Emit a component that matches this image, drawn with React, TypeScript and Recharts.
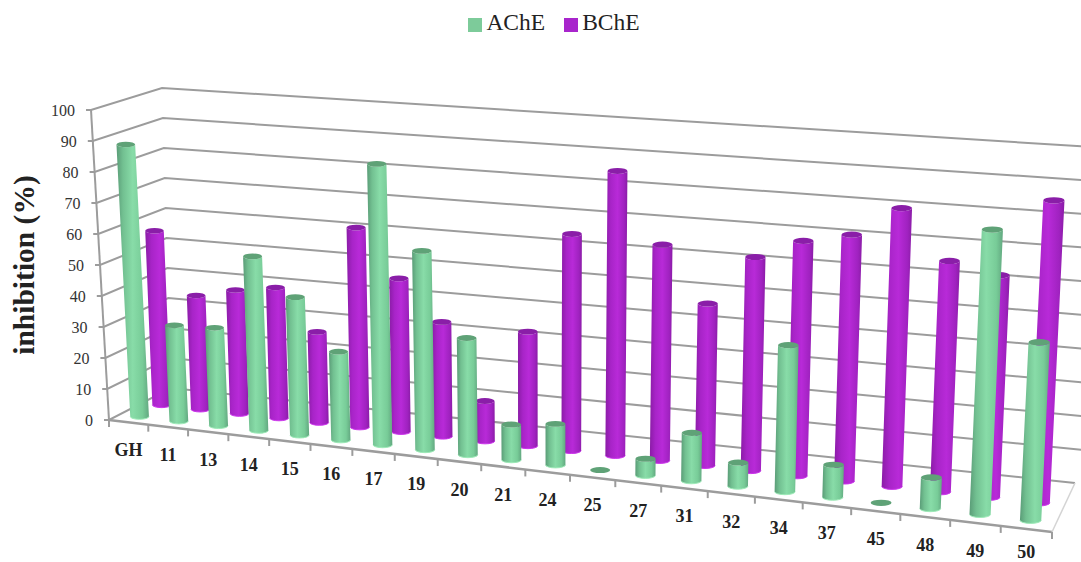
import React from "react";
import { BarChart, Bar, XAxis, YAxis, CartesianGrid, Legend, Label } from "recharts";

// Compounds along the floor of the 3D chart and their inhibition percentages.
const compounds = ["GH", "11", "13", "14", "15", "16", "17", "19", "20", "21", "24", "25", "27", "31", "32", "34", "37", "45", "48", "49", "50"];
const ache = [88, 30.8, 31.3, 55.3, 43.6, 27.7, 87.7, 61.7, 36, 10.8, 12.5, 0, 5, 14.3, 7, 43.2, 9.5, 0, 9, 81.8, 50.8];
const bche = [57, 37, 40, 42, 29, 63.5, 48.5, 36, 12.5, 35.5, 67, 87.5, 66, 49.2, 64.5, 70.5, 73.5, 82.5, 68, 65, 88];
const valueTicks = [0, 10, 20, 30, 40, 50, 60, 70, 80, 90, 100];

const rows = compounds.map((name, i) => ({ name, AChE: ache[i], BChE: bche[i] }));

const WIDTH = 1081;
const HEIGHT = 562;
const LEFT = 109;
const RIGHT = 1052;
const TOP = 110;
const BOTTOM = 420;
const PLOT_W = RIGHT - LEFT;
const PLOT_H = BOTTOM - TOP;
const BAND = PLOT_W / compounds.length;

const SERIF = "'Liberation Serif', serif";
const GRID = "#9c9c9c";

// Corners of the chart box as seen by the camera.
const box = {
  frontLeft: { low: [109, 420], high: [91, 110] },
  backLeft: { low: [171, 388], high: [162, 88] },
  backRight: { low: [1075, 483], high: [1092, 147] },
  frontRight: { low: [1052, 532], high: [1070, 177] },
};

const mix = (a: number, b: number, t: number) => a + (b - a) * t;

// Foreshortening along the floor: categories get wider toward the right.
const FORESHORTEN = 1.15;
const warp = (u: number) => u / (FORESHORTEN - (FORESHORTEN - 1) * u);

// Takes a point in the flat plot area plus a depth (0 front, 1 back) to the screen.
function project(px: number, py: number, depth: number) {
  const u = warp((px - LEFT) / PLOT_W);
  const v = (BOTTOM - py) / PLOT_H;
  const corner = (c: { low: number[]; high: number[] }, k: number) => mix(c.low[k], c.high[k], v);
  const at = (k: number) =>
    mix(
      mix(corner(box.frontLeft, k), corner(box.frontRight, k), u),
      mix(corner(box.backLeft, k), corner(box.backRight, k), u),
      depth
    );
  return { x: at(0), y: at(1) };
}

// Series share one band: each cylinder is centred on the band and pushed back by its depth.
function Cylinder(props: any) {
  const { y, width, height, index, depth, bodyId, capColor, rimColor } = props;
  const cx = LEFT + BAND * (index + 0.5);
  const base = project(cx, y + height, depth);
  const top = project(cx, y, depth);
  const local = project(cx + width / 2, y + height, depth).x - project(cx - width / 2, y + height, depth).x;
  const rx = (local + width) / 4;
  const ry = rx * 0.3;
  const cap = <ellipse cx={top.x} cy={top.y} rx={rx} ry={ry} fill={capColor} />;
  if (height < 0.5) return cap;
  const body = `M${top.x - rx},${top.y} L${base.x - rx},${base.y} A${rx},${ry} 0 0 0 ${base.x + rx},${base.y} L${top.x + rx},${top.y} A${rx},${ry} 0 0 1 ${top.x - rx},${top.y} Z`;
  const rim = `M${base.x - rx},${base.y} A${rx},${ry} 0 0 0 ${base.x + rx},${base.y}`;
  return (
    <g>
      <path d={body} fill={`url(#${bodyId})`} />
      <path d={rim} fill="none" stroke={rimColor} strokeWidth={1} />
      {cap}
    </g>
  );
}

// Back wall, side wall and floor lines, one set per value tick.
function WallLine(props: any) {
  const v = props.y1;
  const f = project(LEFT, v, 0);
  const b = project(LEFT, v, 1);
  const backRight = project(RIGHT, v, 1);
  const slope = (backRight.y - b.y) / (backRight.x - b.x);
  const isFloor = Math.abs(v - BOTTOM) < 0.5;
  const frontRight = project(RIGHT, BOTTOM, 0);
  const axisTop = project(LEFT, TOP, 0);
  const endX = isFloor ? backRight.x : WIDTH + 5;
  const endY = isFloor ? backRight.y : backRight.y + slope * (endX - backRight.x);
  return (
    <g fill="none" stroke={GRID} strokeWidth={2}>
      <polyline points={`${f.x - 5},${f.y} ${f.x},${f.y} ${b.x},${b.y} ${endX},${endY}`} />
      {isFloor && (
        <g>
          <line x1={f.x} y1={f.y} x2={axisTop.x} y2={axisTop.y} />
          <line x1={f.x} y1={f.y} x2={frontRight.x} y2={frontRight.y} strokeWidth={2.5} />
          <line x1={frontRight.x} y1={frontRight.y} x2={backRight.x} y2={backRight.y} stroke="#d4d4d4" strokeWidth={1.5} />
        </g>
      )}
    </g>
  );
}

function CategoryTick(props: any) {
  const { x, index, payload } = props;
  const center = project(x, BOTTOM, 0);
  const boundary = (px: number) => {
    const p = project(px, BOTTOM, 0);
    return <line x1={p.x} y1={p.y} x2={p.x} y2={p.y + 7} stroke={GRID} strokeWidth={2} />;
  };
  return (
    <g>
      {boundary(x - BAND / 2)}
      {index === compounds.length - 1 && boundary(x + BAND / 2)}
      <text
        x={center.x}
        y={Math.min(center.y + 34, HEIGHT - 4)}
        textAnchor="middle"
        fontFamily={SERIF}
        fontWeight={700}
        fontSize={18}
        fill="#222"
      >
        {payload.value}
      </text>
    </g>
  );
}

function ValueTick(props: any) {
  const { y, payload } = props;
  const p = project(LEFT, y, 0);
  return (
    <text x={p.x - 16} y={p.y + 6} textAnchor="end" fontFamily={SERIF} fontSize={16} fill="#333">
      {payload.value}
    </text>
  );
}

const AxisTitle = () => (
  <text
    transform="translate(34 265) rotate(-90)"
    textAnchor="middle"
    fontFamily={SERIF}
    fontWeight={700}
    fontSize={29.5}
    fill="#222"
  >
    inhibition (%)
  </text>
);

const Ramp = ({ id, stops }: { id: string; stops: [number, string][] }) => (
  <linearGradient id={id} x1="0" y1="0" x2="1" y2="0">
    {stops.map(([o, c]) => (
      <stop key={o} offset={o} stopColor={c} />
    ))}
  </linearGradient>
);

export default function App() {
  return (
    <div style={{ position: "absolute", left: 0, top: 0 }}>
      <BarChart
        width={WIDTH}
        height={HEIGHT}
        data={rows}
        margin={{ top: TOP, left: 49, right: WIDTH - RIGHT, bottom: HEIGHT - BOTTOM - 30 }}
        barGap="-100%"
        barSize={20}
      >
        <defs>
          <Ramp id="greenBody" stops={[[0, "#5a9c77"], [0.2, "#72c091"], [0.5, "#88dca8"], [0.8, "#78cc98"], [1, "#62a880"]]} />
          <Ramp id="purpleBody" stops={[[0, "#8a1ca6"], [0.25, "#a824c8"], [0.55, "#b82ad8"], [0.85, "#a022c0"], [1, "#8a1ca6"]]} />
        </defs>
        <CartesianGrid vertical={false} horizontal={WallLine} />
        <XAxis dataKey="name" height={30} interval={0} axisLine={false} tickLine={false} tick={CategoryTick} />
        <YAxis width={60} domain={[0, 100]} ticks={valueTicks} interval={0} axisLine={false} tickLine={false} tick={ValueTick}>
          <Label content={AxisTitle} />
        </YAxis>
        <Legend
          verticalAlign="middle"
          layout="horizontal"
          align="center"
          iconType="square"
          iconSize={14}
          wrapperStyle={{ top: 9, left: 23, width: WIDTH, fontFamily: SERIF, fontSize: 23.5 }}
          formatter={(value: string) => <span style={{ color: "#222", marginRight: 9 }}>{value}</span>}
        />
        <Bar
          dataKey="BChE"
          fill="#a825cc"
          isAnimationActive={false}
          shape={(p: any) => <Cylinder {...p} depth={0.54} bodyId="purpleBody" capColor="#8a1ea8" rimColor="#cc34ec" />}
        />
        <Bar
          dataKey="AChE"
          fill="#7dcb9a"
          isAnimationActive={false}
          shape={(p: any) => <Cylinder {...p} depth={0.18} bodyId="greenBody" capColor="#5fa277" rimColor="#9eeab8" />}
        />
      </BarChart>
    </div>
  );
}
